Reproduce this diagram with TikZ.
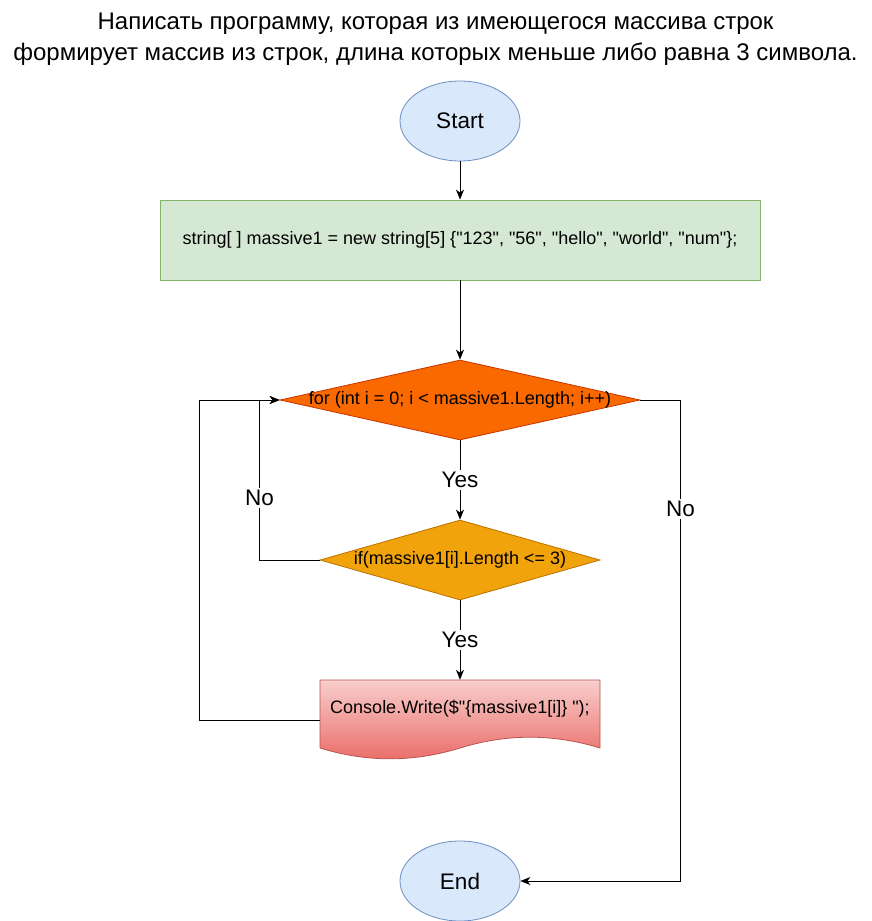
\documentclass[tikz,border=0pt]{standalone}
\usepackage{fontspec}
\setmainfont{Liberation Sans}
\usetikzlibrary{shapes.geometric,arrows.meta}
\definecolor{termfill}{HTML}{DAE8FC}
\definecolor{termline}{HTML}{6C8EBF}
\definecolor{codefill}{HTML}{D5E8D4}
\definecolor{codeline}{HTML}{82B366}
\definecolor{forfill}{HTML}{FA6800}
\definecolor{forline}{HTML}{C73500}
\definecolor{iffill}{HTML}{F0A30A}
\definecolor{ifline}{HTML}{BD7000}
\definecolor{doctop}{HTML}{F8CECC}
\definecolor{docbot}{HTML}{EA6B66}
\definecolor{docline}{HTML}{B85450}
\newcommand{\dq}{\textquotedbl}
\tikzset{
  term/.style={ellipse, draw=termline, fill=termfill, line width=0.8pt, minimum width=120pt, minimum height=80pt, inner sep=0pt, font=\fontsize{22.5}{27}\selectfont},
  codebox/.style={rectangle, draw=codeline, fill=codefill, line width=0.8pt, minimum width=600pt, minimum height=80pt, inner sep=0pt, font=\fontsize{18}{22}\selectfont},
  fordia/.style={diamond, draw=forline, fill=forfill, line width=0.8pt, minimum width=360pt, minimum height=80pt, inner sep=0pt},
  ifdia/.style={diamond, draw=ifline, fill=iffill, line width=0.8pt, minimum width=280pt, minimum height=80pt, inner sep=0pt},
  txt/.style={font=\fontsize{18}{22}\selectfont, inner sep=0pt},
  lbl/.style={fill=white, inner sep=2pt, font=\fontsize{22.5}{27}\selectfont},
  arr/.style={draw=black, line width=1pt, -{Stealth[length=10pt,width=8pt,inset=3pt]}}
}
\begin{document}
\begin{tikzpicture}[x=1pt,y=-1pt]
\useasboundingbox (0,0) rectangle (871,921);
\node[align=center, font=\fontsize{24}{31}\selectfont] (title) at (435.5,39) {Написать программу, которая из имеющегося массива строк\\формирует массив из строк, длина которых меньше либо равна 3 символа.};
\node[term] (start) at (460,121) {Start};
\node[codebox] (code) at (460,240) {string[ ] massive1 = new string[5] \{\dq123\dq, \dq56\dq, \dq hello\dq, \dq world\dq, \dq num\dq\};};
\node[fordia] (for) at (460,400) {};
\node[txt] (fortxt) at (460,400) {for (int i = 0; i < massive1.Length; i++)};
\node[ifdia] (if) at (460,560) {};
\node[txt] (iftxt) at (460,560) {if(massive1[i].Length <= 3)};
% document shape
\shade[top color=doctop, bottom color=docbot] (320,680) -- (600,680) -- (600,748) .. controls (553.3,733.6) and (506.7,733.6) .. (460,748) .. controls (413.3,762.4) and (366.7,762.4) .. (320,748) -- cycle;
\draw[docline, line width=0.8pt] (320,680) -- (600,680) -- (600,748) .. controls (553.3,733.6) and (506.7,733.6) .. (460,748) .. controls (413.3,762.4) and (366.7,762.4) .. (320,748) -- cycle;
\node[rectangle, minimum width=280pt, minimum height=80pt, inner sep=0pt] (con) at (460,720) {};
\node[txt] (contxt) at (460,709) {Console.Write(\$\dq\{massive1[i]\} \dq);};
\node[term] (end) at (460,881) {End};
% connectors
\draw[arr] (start) -- (code);
\draw[arr] (code) -- (for);
\draw[arr] (for) -- node[lbl] (yes1) {Yes} (if);
\draw[arr] (if) -- node[lbl] (yes2) {Yes} (con.north);
\draw[arr] (if.west) -- ++(-60,0) |- node[lbl, pos=0.194] (no1) {No} (for.west);
\draw[arr] (con.west) -- ++(-120,0) |- (for.west);
\draw[arr] (for.east) -- ++(40,0) |- node[lbl, pos=0.113] (no2) {No} (end.east);
\end{tikzpicture}
\end{document}
